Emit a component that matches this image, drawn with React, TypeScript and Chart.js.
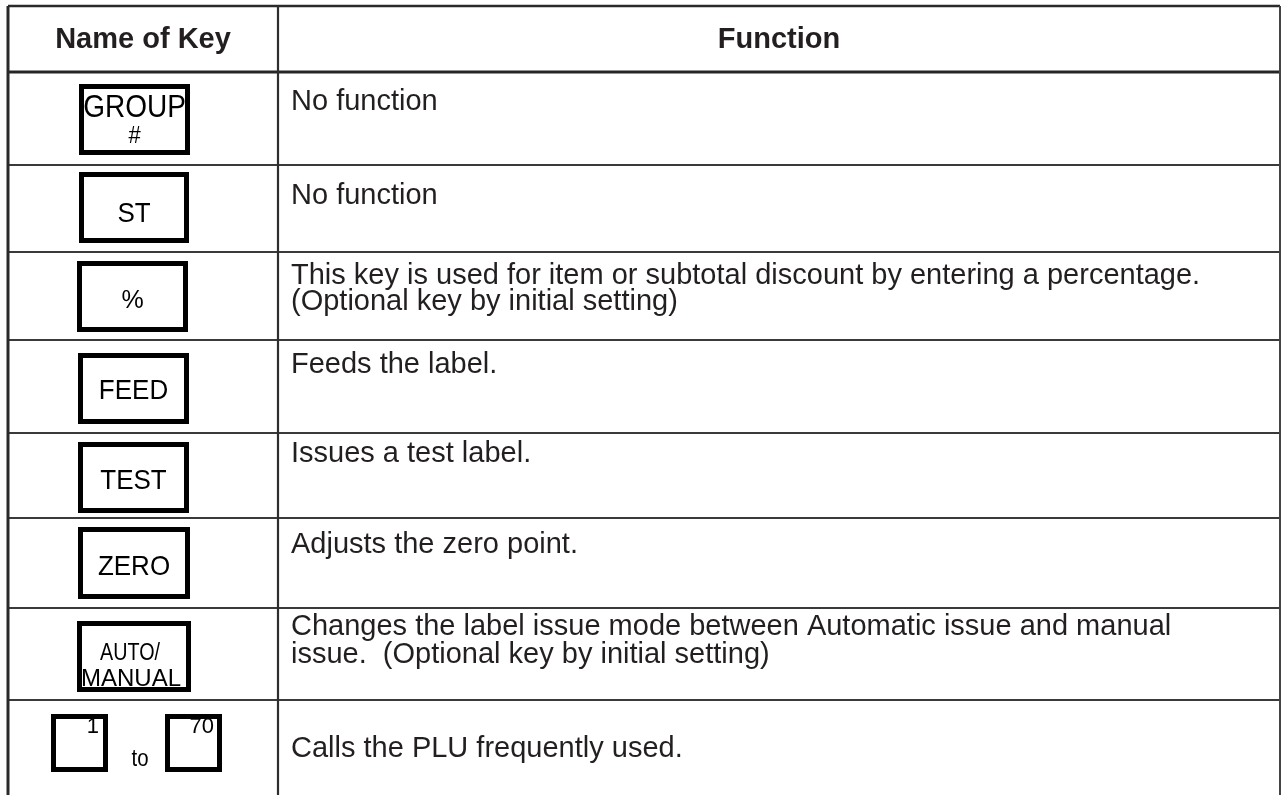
import React, { useEffect, useRef } from "react";
import { Chart, registerables } from "chart.js";

Chart.register(...registerables);

// ---------- content ----------
const headers: string[] = ["Name of Key", "Function"];

const keyLabels: string[][] = [
  ["GROUP", "#"],
  ["ST"],
  ["%"],
  ["FEED"],
  ["TEST"],
  ["ZERO"],
  ["AUTO/", "MANUAL"],
];

const rangeKeyFrom = "1";
const rangeKeyTo = "70";
const rangeWord = "to";

const functionTexts: string[][] = [
  ["No function"],
  ["No function"],
  [
    "This key is used for item or subtotal discount by entering a percentage.",
    "(Optional key by initial setting)",
  ],
  ["Feeds the label."],
  ["Issues a test label."],
  ["Adjusts the zero point."],
  [
    "Changes the label issue mode between Automatic issue and manual",
    "issue.  (Optional key by initial setting)",
  ],
  ["Calls the PLU frequently used."],
];

// ---------- layout (page pixels) ----------
const W = 1281;
const H = 795;
const TABLE_LEFT = 8;
const TABLE_RIGHT = 1280;
const COL_DIV = 278;
const TABLE_TOP = 6;
const HEADER_BOTTOM = 72;
const rowBottoms: number[] = [165, 252, 340, 433, 518, 608, 700];
const headerBaseline = 48;
const funcTextX = 291;
const funcBaselines: number[][] = [
  [110],
  [204],
  [284, 310],
  [373],
  [462],
  [553],
  [635, 663],
  [757],
];
// key boxes: [left, top, right, bottom]
const keyBoxes: number[][] = [
  [79, 84, 190, 155],
  [79, 172, 189, 243],
  [77, 261, 188, 332],
  [78, 353, 189, 424],
  [78, 442, 189, 513],
  [78, 527, 190, 599],
  [77, 621, 191, 692],
];
const keyBaselines: number[][] = [
  [117, 143],
  [222],
  [308],
  [399],
  [489],
  [575],
  [660, 686],
];
const keyFonts: number[][] = [
  [28, 22],
  [26],
  [25],
  [26],
  [26],
  [26],
  [23, 24],
];
const keyScaleY: number[][] = [
  [1.12, 1.05],
  [1.08],
  [1.05],
  [1.05],
  [1.05],
  [1.05],
  [1.0, 1.0],
];
const keyCenterShift: number[][] = [
  [0, 0],
  [0],
  [0],
  [0],
  [0],
  [0],
  [-4, -3],
];
const keyMaxW: (number | undefined)[][] = [
  [105, undefined],
  [undefined],
  [undefined],
  [undefined],
  [undefined],
  [undefined],
  [60, 101],
];
const smallBoxes: number[][] = [
  [51, 714, 108, 772],
  [165, 714, 222, 772],
];
const smallLabelRight: number[] = [99, 214];
const smallLabelBaseline = 733;
const rangeWordX = 140;
const rangeWordBaseline = 766;

const FONT = '"Liberation Sans", Arial, Helvetica, sans-serif';
const TEXT_COLOR = "#231f20";
const LINE_COLOR = "#3a3a3a";

const tablePlugin = {
  id: "keyTable",
  beforeDraw(chart: any) {
    const { ctx } = chart;
    ctx.save();
    ctx.fillStyle = "#ffffff";
    ctx.fillRect(0, 0, chart.width, chart.height);
    ctx.restore();
  },
  afterDraw(chart: any) {
    const { ctx } = chart;
    const xs = chart.scales.x;
    const ys = chart.scales.y;
    const px = (v: number) => xs.getPixelForValue(v);
    const py = (v: number) => ys.getPixelForValue(v);

    ctx.save();
    // grid lines
    const hLine = (y: number, w: number, color: string) => {
      ctx.strokeStyle = color;
      ctx.lineWidth = w;
      ctx.beginPath();
      ctx.moveTo(px(TABLE_LEFT), py(y));
      ctx.lineTo(px(TABLE_RIGHT), py(y));
      ctx.stroke();
    };
    const vLine = (x: number, w: number, color: string) => {
      ctx.strokeStyle = color;
      ctx.lineWidth = w;
      ctx.beginPath();
      ctx.moveTo(px(x), py(TABLE_TOP));
      ctx.lineTo(px(x), py(H));
      ctx.stroke();
    };
    hLine(TABLE_TOP, 2.5, "#2a2a2a");
    hLine(HEADER_BOTTOM, 3, "#262626");
    rowBottoms.forEach((b) => hLine(b, 2, LINE_COLOR));
    vLine(TABLE_LEFT, 3, "#2a2a2a");
    vLine(COL_DIV, 2.2, "#2e2e2e");
    vLine(TABLE_RIGHT, 2, "#444444");

    // headers
    ctx.fillStyle = TEXT_COLOR;
    ctx.textBaseline = "alphabetic";
    ctx.textAlign = "center";
    ctx.font = `bold 29px ${FONT}`;
    ctx.fillText(headers[0], px((TABLE_LEFT + COL_DIV) / 2), py(headerBaseline));
    ctx.fillText(headers[1], px((COL_DIV + TABLE_RIGHT) / 2), py(headerBaseline));

    // function texts
    ctx.textAlign = "left";
    ctx.font = `29px ${FONT}`;
    functionTexts.forEach((lines, r) => {
      lines.forEach((line, i) => {
        ctx.fillText(line, px(funcTextX), py(funcBaselines[r][i]));
      });
    });

    // key boxes
    ctx.strokeStyle = "#000000";
    ctx.lineWidth = 5;
    const box = (b: number[]) => {
      const x0 = px(b[0]);
      const y0 = py(b[1]);
      const x1 = px(b[2]);
      const y1 = py(b[3]);
      ctx.strokeRect(x0 + 2.5, y0 + 2.5, x1 - x0 - 5, y1 - y0 - 5);
    };
    ctx.fillStyle = "#000000";
    ctx.textAlign = "center";
    keyLabels.forEach((lines, r) => {
      const b = keyBoxes[r];
      box(b);
      lines.forEach((line, i) => {
        const cx = px((b[0] + b[2]) / 2 + keyCenterShift[r][i]);
        const by = py(keyBaselines[r][i]);
        const sy = keyScaleY[r][i];
        ctx.save();
        ctx.translate(cx, by);
        ctx.scale(1, sy);
        ctx.font = `${keyFonts[r][i]}px ${FONT}`;
        const mw = keyMaxW[r][i];
        if (mw) ctx.fillText(line, 0, 0, mw);
        else ctx.fillText(line, 0, 0);
        ctx.restore();
      });
    });

    // numbered key range
    smallBoxes.forEach((b) => box(b));
    ctx.font = `22px ${FONT}`;
    ctx.textAlign = "right";
    ctx.fillText(rangeKeyFrom, px(smallLabelRight[0]), py(smallLabelBaseline));
    ctx.fillText(rangeKeyTo, px(smallLabelRight[1]), py(smallLabelBaseline));
    ctx.textAlign = "center";
    ctx.font = `24px ${FONT}`;
    ctx.fillText(rangeWord, px(rangeWordX), py(rangeWordBaseline), 17);

    ctx.restore();
  },
};

export default function App() {
  const ref = useRef<HTMLCanvasElement | null>(null);

  useEffect(() => {
    document.body.style.margin = "0";
    const canvas = ref.current;
    if (!canvas) return;
    const chart = new Chart(canvas, {
      type: "scatter",
      data: { datasets: [{ data: [] }] },
      options: {
        animation: false,
        responsive: false,
        devicePixelRatio: 1,
        layout: { padding: 0 },
        events: [],
        plugins: { legend: { display: false }, tooltip: { enabled: false } },
        scales: {
          x: { type: "linear", min: 0, max: W, display: false },
          y: { type: "linear", min: 0, max: H, reverse: true, display: false },
        },
      },
      plugins: [tablePlugin],
    });
    return () => chart.destroy();
  }, []);

  return (
    <div style={{ position: "absolute", left: 0, top: 0, width: W, height: H }}>
      <canvas ref={ref} width={W} height={H} style={{ width: W, height: H, display: "block" }} />
    </div>
  );
}
